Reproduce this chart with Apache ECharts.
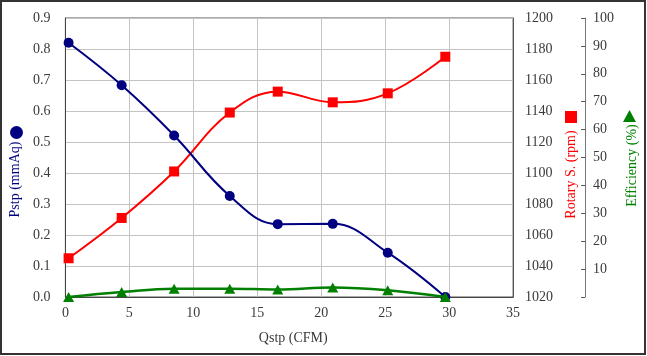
<!DOCTYPE html>
<html>
<head>
<meta charset="utf-8">
<script src="https://cdn.jsdelivr.net/npm/echarts@6/dist/echarts.min.js"></script>
<style>
  html, body { margin: 0; padding: 0; background: #fff; }
  #chart { width: 647px; height: 356px; }
</style>
</head>
<body>
<div id="chart"></div>
<script>
// ---- data ----
const qstp = [0.25, 4.4, 8.5, 12.85, 16.6, 20.9, 25.2, 29.7];          // Qstp (CFM)
const pstp = [0.82, 0.683, 0.521, 0.326, 0.235, 0.236, 0.143, 0.0];    // Pstp (mmAq)
const rotary = [1045, 1071, 1101, 1139, 1152.5, 1145.6, 1151.4, 1175]; // Rotary S. (rpm)
const efficiency = [0, 1.8, 3.0, 3.0, 2.7, 3.4, 2.4, 0];               // Efficiency (%)

const xTicks = { min: 0, max: 35, interval: 5 };
const pTicks = { min: 0, max: 0.9, interval: 0.1 };
const rTicks = { min: 1020, max: 1200, interval: 20 };
const eTicks = { min: 0, max: 100, interval: 10 };

const names = { x: 'Qstp (CFM)', p: 'Pstp (mmAq)', r: 'Rotary S. (rpm)', e: 'Efficiency (%)' };

const pair = (xs, ys) => xs.map((x, i) => [x, ys[i]]);

const FONT = "'Liberation Serif', 'Times New Roman', serif";
const NAVY = '#000080', RED = '#ff0000', GREEN = '#008000';
const labelStyle = { fontFamily: FONT, fontSize: 14, color: '#3a3a3a' };

const chart = echarts.init(document.getElementById('chart'), null, { renderer: 'canvas' });
chart.setOption({
  animation: false,
  backgroundColor: '#fff',
  grid: { left: 62, right: 126, top: 18, bottom: 59, show: true, borderColor: '#555', borderWidth: 1 },
  graphic: [{
    type: 'rect', shape: { x: 1, y: 1, width: 644, height: 353 },
    style: { fill: 'none', stroke: '#333', lineWidth: 2 }, silent: true
  }],
  legend: [
    { data: [{ name: names.p, icon: 'circle' }], left: 10, top: 126, padding: 0, itemWidth: 13, itemHeight: 13, formatter: () => '', selectedMode: false },
    { data: [{ name: names.r, icon: 'rect' }], left: 565, top: 111, padding: 0, itemWidth: 12, itemHeight: 12, formatter: () => '', selectedMode: false },
    { data: [{ name: names.e, icon: 'triangle' }], left: 623, top: 110, padding: 0, itemWidth: 13, itemHeight: 12, formatter: () => '', selectedMode: false }
  ],
  xAxis: {
    type: 'value', min: xTicks.min, max: xTicks.max, interval: xTicks.interval,
    name: names.x, nameLocation: 'middle', nameGap: 34,
    nameTextStyle: Object.assign({}, labelStyle, { padding: [0, 0, 0, 8] }),
    axisLine: { show: true, lineStyle: { color: '#444', width: 1 } },
    axisTick: { show: false },
    axisLabel: Object.assign({}, labelStyle, { margin: 9 }),
    splitLine: { show: true, lineStyle: { color: '#c4c4c4', width: 1 } }
  },
  yAxis: [
    {
      type: 'value', position: 'left', min: pTicks.min, max: pTicks.max, interval: pTicks.interval,
      name: names.p, nameLocation: 'middle', nameGap: 35,
      nameTextStyle: { fontFamily: FONT, fontSize: 14, color: NAVY, padding: [0, 44, 0, 0] },
      axisLine: { show: true, lineStyle: { color: '#444', width: 1 } },
      axisTick: { show: false },
      axisLabel: Object.assign({}, labelStyle, { margin: 15, formatter: v => v.toFixed(1) }),
      splitLine: { show: true, lineStyle: { color: '#c4c4c4', width: 1 } }
    },
    {
      type: 'value', position: 'right', min: rTicks.min, max: rTicks.max, interval: rTicks.interval,
      name: names.r, nameLocation: 'middle', nameGap: 43, nameRotate: 90,
      nameTextStyle: { fontFamily: FONT, fontSize: 14, color: RED, padding: [0, 34, 0, 0] },
      axisLine: { show: true, lineStyle: { color: '#555', width: 1 } },
      axisTick: { show: false },
      axisLabel: Object.assign({}, labelStyle, { margin: 12, formatter: v => String(v) }),
      splitLine: { show: false }
    },
    {
      type: 'value', position: 'right', offset: 72, min: eTicks.min, max: eTicks.max, interval: eTicks.interval,
      name: names.e, nameLocation: 'middle', nameGap: 30, nameRotate: 90,
      nameTextStyle: { fontFamily: FONT, fontSize: 14, color: GREEN, padding: [0, 16, 0, 0] },
      axisLine: { show: true, lineStyle: { color: '#777', width: 1 } },
      axisTick: { show: true, inside: true, length: 4, lineStyle: { color: '#555' } },
      axisLabel: Object.assign({}, labelStyle, { margin: 8, formatter: v => (v === 0 ? '' : String(v)) }),
      splitLine: { show: false }
    }
  ],
  series: [
    {
      name: names.p, type: 'line', yAxisIndex: 0, smooth: 0.4, data: pair(qstp, pstp),
      symbol: 'circle', symbolSize: 10, z: 3,
      lineStyle: { color: NAVY, width: 2 }, itemStyle: { color: NAVY }
    },
    {
      name: names.r, type: 'line', yAxisIndex: 1, smooth: 0.4, data: pair(qstp, rotary),
      symbol: 'rect', symbolSize: 10, z: 2,
      lineStyle: { color: RED, width: 2 }, itemStyle: { color: RED }
    },
    {
      name: names.e, type: 'line', yAxisIndex: 2, smooth: 0.4, data: pair(qstp, efficiency),
      symbol: 'triangle', symbolSize: [11, 10], z: 4,
      lineStyle: { color: GREEN, width: 2.5 }, itemStyle: { color: GREEN }
    }
  ]
});
</script>
</body>
</html>
